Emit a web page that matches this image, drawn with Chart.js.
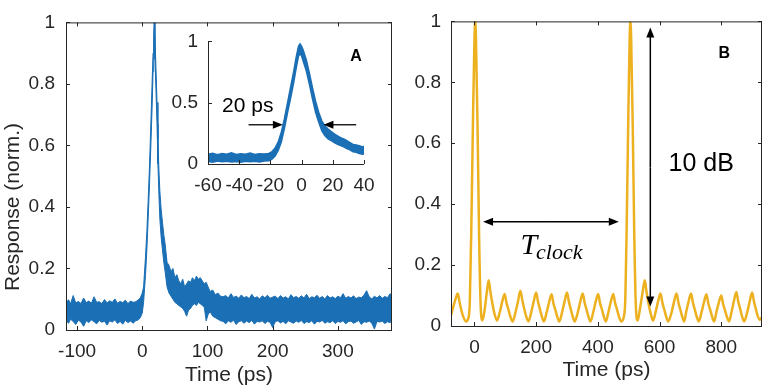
<!DOCTYPE html>
<html>
<head>
<meta charset="utf-8">
<script src="https://cdn.jsdelivr.net/npm/chart.js@4.4.1/dist/chart.umd.min.js"></script>
<style>
  html, body { margin: 0; padding: 0; background: #fff; }
  #wrap { position: relative; width: 765px; height: 392px; overflow: hidden; background: #fff; }
  canvas { position: absolute; }
</style>
</head>
<body>
<div id="wrap">
  <canvas id="chartA" width="400" height="392" style="left:0;top:0"></canvas>
  <canvas id="chartB" width="365" height="392" style="left:400px;top:0"></canvas>
  <canvas id="inset" width="240" height="190" style="left:150px;top:20px"></canvas>
</div>
<script>
// ---- panel A: detector response (noisy trace kept as upper / lower envelope) ----
const timeA = [-117, -113, -110, -106, -102, -98, -94, -90, -86, -82, -78, -74, -70, -66, -62, -58, -54, -50,
  -46, -42, -38, -34, -30, -26, -22, -18, -14, -10, -6, -3, 0,
  2, 5, 7, 9, 11, 13, 15, 16.5, 17.5, 18.3, 19.5, 21, 22.6, 24, 25.5, 27, 29, 31, 33, 35,
  38, 41, 44, 47, 50, 53, 56, 59, 62, 65, 68, 71, 74, 77, 80, 83, 86, 89, 92, 95,
  98, 101, 104, 108, 112, 116, 120,
  124, 128, 132, 136, 140, 144, 148, 152, 156, 160, 164, 168, 172, 176, 180, 184, 188, 192, 196, 200,
  204, 208, 212, 216, 220, 224, 228, 232, 236, 240, 244, 248, 252, 256, 260, 264, 268, 272, 276, 280,
  284, 288, 292, 296, 300, 304, 308, 312, 316, 320, 324, 328, 332, 336, 340, 344, 348, 352, 356, 360,
  364, 368, 372, 376, 380, 383];
const upperA = [.090, .098, .085, .112, .088, .093, .086, .104, .089, .094, .087, .108, .090, .092, .086, .099, .088, .095,
  .090, .101, .087, .093, .089, .097, .086, .094, .090, .092, .098, .105, .120,
  .14, .24, .32, .42, .53, .66, .80, .90, .97, 1.0, .95, .85, .74, .62, .52, .45, .39, .35, .31, .28,
  .22, .21, .19, .20, .17, .18, .16, .15, .165, .14, .15, .16, .155, .17, .16, .175, .165, .17, .16, .15,
  .155, .14, .125, .13, .115, .12, .11,
  .108, .112, .104, .118, .106, .110, .103, .114, .105, .109, .102, .116, .104, .108, .101, .111, .105, .113, .103, .107,
  .110, .102, .112, .104, .108, .101, .115, .105, .109, .103, .111, .104, .116, .102, .108, .105, .113, .103, .109, .101,
  .112, .104, .108, .102, .110, .105, .118, .103, .109, .104, .111, .102, .107, .105, .113, .128, .108, .101, .110, .104,
  .112, .103, .109, .105, .118, .112];
const lowerA = [.030, .022, .035, .028, .018, .032, .026, .012, .030, .024, .033, .027, .020, .031, .025, .029, .016, .030,
  .026, .033, .021, .028, .019, .031, .024, .029, .022, .030, .033, .040, .055,
  .09, .18, .26, .36, .47, .59, .72, .84, .92, .95, .88, .78, .67, .54, .44, .36, .30, .26, .22, .19,
  .14, .12, .11, .10, .09, .085, .08, .075, .07, .06, .045, .065, .07, .08, .085, .08, .09, .085, .08, .075,
  .03, .05, .06, .045, .04, .035, .03,
  .028, .020, .030, .025, .032, .018, .027, .030, .022, .029, .024, .031, .019, .028, .026, .030, .021, .028, .025, .008,
  .027, .030, .023, .028, .020, .030, .026, .022, .029, .025, .031, .021, .027, .024, .030, .019, .028, .026, .031, .022,
  .027, .024, .030, .021, .028, .025, .030, .020, .027, .029, .022, .026, .031, .018, .027, .025, .029, .022, .003, .028,
  .026, .029, .021, .027, .024, .030];

// ---- inset: zoom on the pulse ----
const insetTime = [-60, -57, -54, -51, -48, -45, -42, -39, -36, -33, -30, -27, -24, -21, -19, -17, -15, -13, -11, -9, -7, -5,
  -3.5, -2, -1, 0, 1, 3, 5, 7, 9, 11, 13, 15, 17, 19, 21, 23, 25, 27, 29, 31, 33, 35, 37, 39, 40];
const insetUpper = [.080, .088, .075, .085, .079, .092, .078, .084, .080, .090, .077, .083, .081, .086, .100, .130, .180, .260, .370, .500, .630, .760,
  .870, .960, .980, .960, .930, .850, .740, .620, .510, .420, .350, .310, .285, .265, .245, .230, .215, .205, .190, .175, .160, .155, .150, .140, .145];
const insetLower = [.020, .015, .024, .018, .022, .016, .021, .014, .023, .018, .022, .017, .024, .026, .040, .065, .110, .180, .290, .420, .540, .670,
  .780, .880, .900, .880, .840, .760, .650, .530, .420, .340, .270, .230, .205, .190, .175, .160, .150, .140, .125, .115, .100, .095, .085, .080, .082];

// ---- panel B: clocked pulse train ----
const timeB = [-76, -68, -61, -54, -48, -42, -36, -28, -20, -15, -10, -5, 0, 2.5, 5, 10, 15, 20, 26,
  34, 40, 46, 52, 58, 65, 73, 82, 90, 98, 104, 110, 116, 124,
  133, 141, 149, 155, 161, 167, 175, 184, 192, 200, 206, 212, 218, 225,
  234, 242, 250, 256, 262, 268, 275, 284, 292, 300, 306, 312, 318, 325,
  335, 343, 351, 357, 363, 369, 376, 385, 393, 401, 407, 413, 419, 426,
  434, 442, 450, 456, 462, 468, 476, 484, 489, 493, 498, 503, 505.5, 508, 513, 518, 523, 529,
  537, 545, 552, 558, 564, 571, 579, 587, 595, 603, 609, 615, 621, 628,
  639, 647, 655, 661, 667, 673, 680, 686, 694, 702, 708, 714, 720, 727,
  736, 744, 752, 758, 764, 770, 777, 784, 792, 800, 806, 812, 818, 825,
  833, 841, 849, 855, 861, 867, 874, 884, 892, 900, 906, 912, 918, 925, 932];
const responseB = [.035, .065, .09, .107, .077, .05, .03, .015, .025, .08, .33, .66, .94, 1.0, .94, .66, .30, .07, .018,
  .06, .11, .15, .11, .075, .04, .018, .045, .08, .105, .075, .055, .032, .015,
  .045, .08, .116, .085, .058, .034, .015, .045, .08, .11, .08, .056, .033, .015,
  .045, .078, .104, .074, .054, .032, .015, .045, .08, .11, .08, .056, .033, .015,
  .045, .08, .107, .077, .055, .032, .015, .045, .08, .105, .075, .055, .032, .015,
  .045, .08, .105, .075, .055, .032, .015, .03, .09, .30, .64, .94, 1.0, .94, .66, .30, .07, .018,
  .06, .11, .15, .11, .075, .042, .018, .045, .08, .107, .077, .055, .032, .015,
  .045, .08, .107, .077, .055, .032, .015, .045, .08, .107, .077, .055, .032, .015,
  .045, .078, .104, .074, .054, .032, .015, .045, .077, .10, .072, .052, .031, .015,
  .045, .082, .112, .08, .057, .033, .015, .045, .08, .11, .08, .056, .033, .02, .03];

const ticksXA = [-100, 0, 100, 200, 300];
const ticksY = [0, 0.2, 0.4, 0.6, 0.8, 1];
const ticksXInset = [-60, -40, -20, 0, 20, 40];
const ticksYInset = [0, 0.5, 1];
const ticksXB = [0, 200, 400, 600, 800];

const BLUE = '#1b6fb5';
const ORANGE = '#EDB120';
const AXIS = '#262626';
const SANS = '"Liberation Sans", Arial, Helvetica, sans-serif';
const SERIF = '"Liberation Serif", "DejaVu Serif", serif';

Chart.defaults.font.family = SANS;
Chart.defaults.color = AXIS;

const pts = (xs, ys) => xs.map((x, i) => ({x, y: ys[i]}));

function xAxis(min, max, tickVals, height, title, titlePad) {
  return {
    type: 'linear', min, max,
    afterBuildTicks: s => { s.ticks = tickVals.map(v => ({value: v})); },
    afterFit: s => { s.height = height; },
    grid: {display: false, drawTicks: false},
    border: {display: false},
    ticks: {font: {size: 19}, padding: 10, maxRotation: 0, autoSkip: false, callback: v => String(v)},
    title: title ? {display: true, text: title, font: {size: 21}, padding: {top: 0, bottom: titlePad}} : {display: false}
  };
}

function yAxis(min, max, tickVals, width, pad) {
  return {
    type: 'linear', min, max,
    afterBuildTicks: s => { s.ticks = tickVals.map(v => ({value: v})); },
    afterFit: s => { s.width = width; },
    grid: {display: false, drawTicks: false},
    border: {display: false},
    ticks: {font: {size: 19}, padding: pad, autoSkip: false, callback: v => String(v)}
  };
}

// matlab style box with inward ticks
function boxPlugin(full) {
  return {
    id: 'box',
    afterDatasetsDraw(chart) {
      const {ctx, chartArea: a, scales: {x, y}} = chart;
      const len = 4;
      ctx.save();
      ctx.strokeStyle = AXIS;
      ctx.lineWidth = 1;
      ctx.beginPath();
      x.ticks.forEach(t => {
        const px = Math.round(x.getPixelForValue(t.value)) + 0.5;
        ctx.moveTo(px, a.bottom); ctx.lineTo(px, a.bottom - len);
        if (full) { ctx.moveTo(px, a.top); ctx.lineTo(px, a.top + len); }
      });
      y.ticks.forEach(t => {
        const py = Math.round(y.getPixelForValue(t.value)) + 0.5;
        ctx.moveTo(a.left, py); ctx.lineTo(a.left + len, py);
        if (full) { ctx.moveTo(a.right, py); ctx.lineTo(a.right - len, py); }
      });
      ctx.moveTo(a.left + 0.5, a.top);
      ctx.lineTo(a.left + 0.5, a.bottom + 0.5);
      ctx.lineTo(a.right, a.bottom + 0.5);
      if (full) {
        ctx.moveTo(a.left, a.top + 0.5);
        ctx.lineTo(a.right - 0.5, a.top + 0.5);
        ctx.lineTo(a.right - 0.5, a.bottom);
      }
      ctx.stroke();
      ctx.restore();
    }
  };
}

function arrow(ctx, x1, y1, x2, y2) {
  const ang = Math.atan2(y2 - y1, x2 - x1), L = 10, W = 4;
  const c = Math.cos(ang), s = Math.sin(ang);
  ctx.beginPath();
  ctx.moveTo(x1, y1);
  ctx.lineTo(x2 - L * 0.7 * c, y2 - L * 0.7 * s);
  ctx.stroke();
  ctx.beginPath();
  ctx.moveTo(x2, y2);
  ctx.lineTo(x2 - L * c + W * s, y2 - L * s - W * c);
  ctx.lineTo(x2 - L * c - W * s, y2 - L * s + W * c);
  ctx.closePath();
  ctx.fill();
}

function base(pad, x, y) {
  return {
    responsive: false, animation: false, devicePixelRatio: 1,
    layout: {padding: pad},
    plugins: {legend: {display: false}, tooltip: {enabled: false}},
    elements: {point: {radius: 0}, line: {tension: 0}},
    scales: {x, y}
  };
}

const notesA = {
  id: 'notesA',
  afterDraw(chart) {
    const {ctx, scales: {x, y}} = chart;
    ctx.save();
    ctx.fillStyle = '#000';
    ctx.font = 'bold 16px ' + SANS;
    ctx.textAlign = 'center';
    ctx.fillText('A', x.getPixelForValue(328), y.getPixelForValue(0.874));
    ctx.translate(13, 207);
    ctx.rotate(-Math.PI / 2);
    ctx.fillStyle = AXIS;
    ctx.font = '21px ' + SANS;
    ctx.textBaseline = 'middle';
    ctx.fillText('Response (norm.)', 0, 0);
    ctx.restore();
  }
};

const notesInset = {
  id: 'notesInset',
  afterDraw(chart) {
    const {ctx, scales: {x, y}} = chart;
    const px = v => x.getPixelForValue(v), py = v => y.getPixelForValue(v);
    ctx.save();
    ctx.fillStyle = '#000';
    ctx.strokeStyle = '#000';
    ctx.lineWidth = 1.3;
    ctx.font = '21px ' + SANS;
    ctx.fillText('20 ps', px(-51), py(0.423));
    arrow(ctx, px(-34), py(0.32), px(-12), py(0.32));
    arrow(ctx, px(35), py(0.32), px(14), py(0.32));
    ctx.restore();
  }
};

const notesB = {
  id: 'notesB',
  afterDraw(chart) {
    const {ctx, scales: {x, y}} = chart;
    const px = v => x.getPixelForValue(v), py = v => y.getPixelForValue(v);
    ctx.save();
    ctx.fillStyle = '#000';
    ctx.strokeStyle = '#000';
    ctx.lineWidth = 1.5;
    // clock period
    arrow(ctx, px(248), py(0.342), px(28), py(0.342));
    arrow(ctx, px(248), py(0.342), px(468), py(0.342));
    // extinction
    arrow(ctx, px(570), py(0.52), px(570), py(0.98));
    arrow(ctx, px(570), py(0.52), px(570), py(0.064));
    ctx.font = '25px ' + SANS;
    ctx.fillText('10 dB', px(629), py(0.508));
    ctx.font = 'italic 30px ' + SERIF;
    const tx = px(149), ty = py(0.235);
    ctx.fillText('T', tx, ty);
    const w = ctx.measureText('T').width;
    ctx.font = 'italic 22px ' + SERIF;
    ctx.fillText('clock', tx + w - 1, ty + 5);
    ctx.font = 'bold 16px ' + SANS;
    ctx.textAlign = 'center';
    ctx.fillText('B', px(810), py(0.881));
    ctx.restore();
  }
};

new Chart(document.getElementById('chartA'), {
  type: 'line',
  data: {datasets: [
    {data: pts(timeA, upperA), borderColor: BLUE, backgroundColor: BLUE, borderWidth: 1, fill: '+1'},
    {data: pts(timeA, lowerA), borderColor: BLUE, borderWidth: 1, fill: false}
  ]},
  options: base({left: 0, top: 12, right: 8, bottom: 0},
    xAxis(-117, 383, ticksXA, 62, 'Time (ps)', 4),
    yAxis(0, 1, ticksY, 66, 11)),
  plugins: [boxPlugin(true), notesA]
});

new Chart(document.getElementById('inset'), {
  type: 'line',
  data: {datasets: [
    {data: pts(insetTime, insetUpper), borderColor: BLUE, backgroundColor: BLUE, borderWidth: 1.5, fill: '+1'},
    {data: pts(insetTime, insetLower), borderColor: BLUE, borderWidth: 1.5, fill: false}
  ]},
  options: base({left: 0, top: 14, right: 26, bottom: 0},
    xAxis(-60, 40, ticksXInset, 46, null, 0),
    yAxis(0, 1, ticksYInset, 58, 10)),
  plugins: [boxPlugin(false), notesInset]
});

new Chart(document.getElementById('chartB'), {
  type: 'line',
  data: {datasets: [
    {data: pts(timeB, responseB), borderColor: ORANGE, borderWidth: 2.5, fill: false, cubicInterpolationMode: 'monotone'}
  ]},
  options: base({left: 0, top: 15, right: 3, bottom: 0},
    xAxis(-76, 932, ticksXB, 66, 'Time (ps)', 9),
    yAxis(0, 1, ticksY, 51, 10)),
  plugins: [boxPlugin(true), notesB]
});
</script>
</body>
</html>
